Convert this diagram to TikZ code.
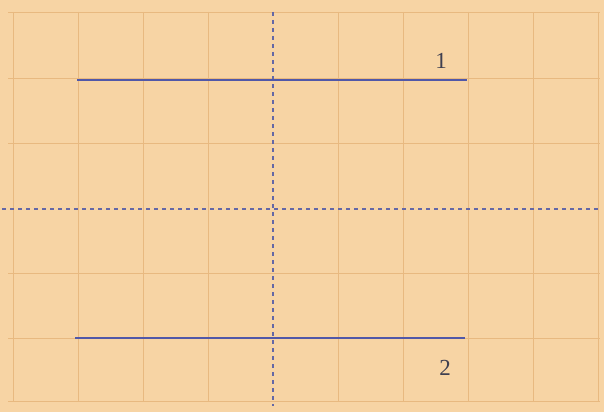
\documentclass[tikz,border=0pt]{standalone}
\usepackage{fontspec}
\setmainfont{Liberation Serif}
\definecolor{paper}{HTML}{F7D4A4}
\definecolor{gridc}{HTML}{E8B980}
\definecolor{segc}{HTML}{5158A8}
\definecolor{dashc}{HTML}{6468A6}
\definecolor{labc}{HTML}{3F3F50}
\tikzset{
  gridline/.style={draw=gridc, line width=1pt},
  segline/.style={draw=segc, line width=2.4pt},
  dashline/.style={draw=dashc, line width=1.7pt, dash pattern=on 4pt off 4pt},
  lab/.style={text=labc, font=\fontsize{23}{23}\selectfont, inner sep=0pt}
}
\begin{document}
\begin{tikzpicture}[x=1pt,y=-1pt]
\fill[paper] (0,0) rectangle (604,412);
\useasboundingbox (0,0) rectangle (604,412);
% grid
\foreach \x in {13,78,143,208,338,403,468,533,598}
  \draw[gridline] (\x,12) -- (\x,402);
\foreach \y in {13,78,143,273,338,401}
  \draw[gridline] (8,\y) -- (600,\y);
% dashed axes
\coordinate (vt) at (273,12);
\coordinate (vb) at (273,406);
\coordinate (hl) at (2,209);
\coordinate (hr) at (600,209);
\draw[dashline] (vt) -- (vb);
\draw[dashline] (hl) -- (hr);
% segments
\coordinate (a1) at (77,80);
\coordinate (b1) at (467,80);
\coordinate (a2) at (75,338);
\coordinate (b2) at (465,338);
\draw[segline] (a1) -- (b1);
\draw[segline] (a2) -- (b2);
% labels
\node[lab] (l1) at (441,61) {1};
\node[lab] (l2) at (445,368) {2};
\end{tikzpicture}
\end{document}
